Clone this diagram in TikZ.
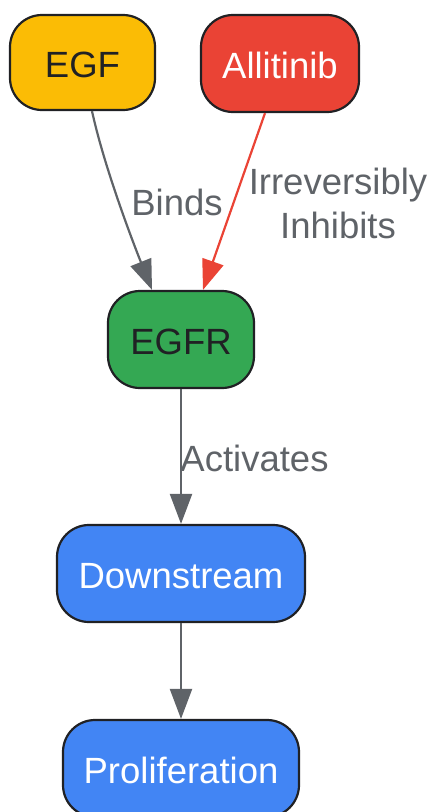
\documentclass[tikz,border=0pt]{standalone}
\usepackage{fontspec}
\setmainfont{Liberation Sans}
\usetikzlibrary{arrows.meta}
\definecolor{cyellow}{HTML}{FBBC05}
\definecolor{cred}{HTML}{EA4335}
\definecolor{cgreen}{HTML}{34A853}
\definecolor{cblue}{HTML}{4285F4}
\definecolor{cdark}{HTML}{202124}
\definecolor{cgrey}{HTML}{5F6368}
\tikzset{
  box/.style={draw=cdark, line width=2.2pt, rounded corners=32pt, inner sep=0pt,
    minimum height=97pt, text height=31pt, text depth=2pt,
    font=\fontsize{36.5pt}{44pt}\selectfont},
  edge/.style={draw=cgrey, line width=2.2pt, -{Triangle[length=30pt,width=22pt]}},
  redge/.style={draw=cred, line width=2.2pt, -{Triangle[length=30pt,width=22pt]}},
  lbl/.style={text=cgrey, inner sep=0pt, align=center,
    font=\fontsize{36.5pt}{44pt}\selectfont}
}
\begin{document}
\begin{tikzpicture}[x=1pt, y=-1pt]
\useasboundingbox (0,0) rectangle (432,812);
\clip (0,0) rectangle (432,812);
\node[box, fill=cyellow, text=cdark, minimum width=145pt, minimum height=95pt] (egf) at (82.5,62.5) {EGF};
\node[box, fill=cred, text=white, minimum width=158pt] (alli) at (280,63.5) {Allitinib};
\node[box, fill=cgreen, text=cdark, minimum width=146pt] (egfr) at (181,339.5) {EGFR};
\node[box, fill=cblue, text=white, minimum width=248pt] (down) at (181,573.5) {Downstream};
\node[box, fill=cblue, text=white, minimum width=236pt] (prol) at (181,768.5) {Proliferation};

\draw[edge] ([xshift=9.5pt]egf.south) .. controls +(12,55) and +(-20,-50) .. ([xshift=-29pt]egfr.north);
\draw[redge] ([xshift=-15pt]alli.south) -- ([xshift=22pt]egfr.north);
\draw[edge] (egfr.south) -- (down.north);
\draw[edge] (down.south) -- (prol.north);

\node[lbl] (lbinds) at (177,202.5) {Binds};
\node[lbl] (linh) at (338,203.5) {Irreversibly\\Inhibits};
\node[lbl] (lact) at (254.5,458) {Activates};
\end{tikzpicture}
\end{document}
